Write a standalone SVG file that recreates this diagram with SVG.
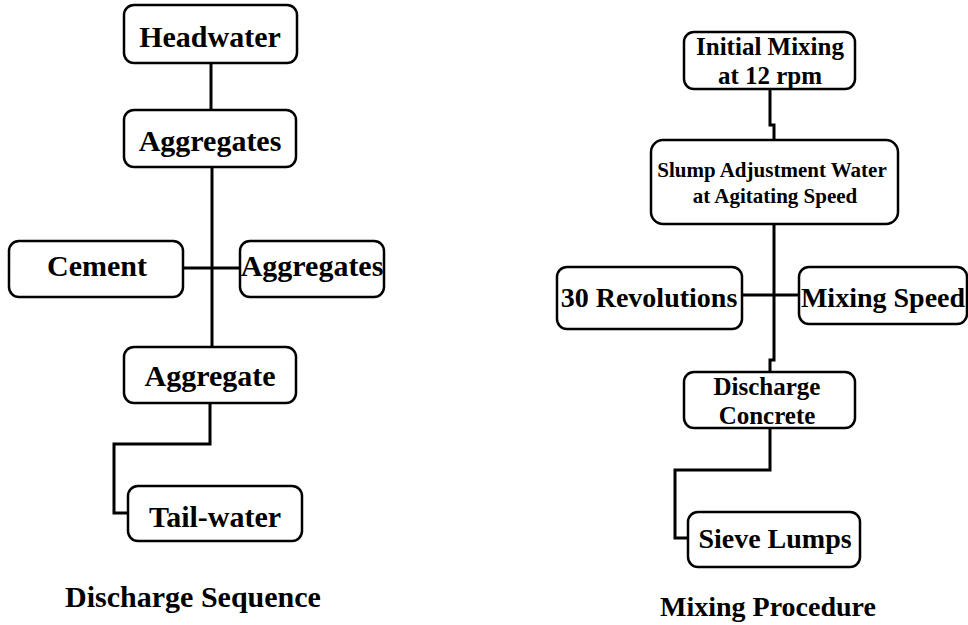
<svg xmlns="http://www.w3.org/2000/svg" width="968" height="625" viewBox="0 0 968 625">
<style>
.box{fill:#fff;stroke:#000;stroke-width:2.5}
.t{font-family:"Liberation Serif","Times New Roman",serif;font-weight:bold;fill:#000;text-anchor:middle}
.ln{fill:none;stroke:#000;stroke-width:3;stroke-linejoin:miter}
</style>
<rect width="968" height="625" fill="#fff"/>
<g id="connectors">
<path class="ln" d="M211,63 V110"/>
<path class="ln" d="M212,167 V347"/>
<path class="ln" d="M183,268 H240"/>
<path class="ln" d="M210,403 V444 H114 V513 H128"/>
<path class="ln" d="M770,89 V125 H774 V140"/>
<path class="ln" d="M774,224 V360 H770 V372"/>
<path class="ln" d="M742,295 H799"/>
<path class="ln" d="M770,428 V470 H675 V538 H688"/>
</g>
<g id="headwater"><rect class="box" x="124" y="5" width="173" height="58" rx="10"/><text class="t" x="210" y="47" font-size="30">Headwater</text></g>
<g id="aggregates1"><rect class="box" x="124" y="110" width="172" height="57" rx="10"/><text class="t" x="210" y="151" font-size="30">Aggregates</text></g>
<g id="cement"><rect class="box" x="9" y="241" width="174" height="56" rx="10"/><text class="t" x="97" y="276" font-size="30">Cement</text></g>
<g id="aggregates2"><rect class="box" x="240" y="241" width="144" height="56" rx="10"/><text class="t" x="312" y="276" font-size="30">Aggregates</text></g>
<g id="aggregate"><rect class="box" x="124" y="347" width="172" height="56" rx="10"/><text class="t" x="210" y="386" font-size="30">Aggregate</text></g>
<g id="tailwater"><rect class="box" x="128" y="486" width="174" height="55" rx="10"/><text class="t" x="215" y="527" font-size="30">Tail-water</text></g>
<g id="title-left"><text class="t" x="193" y="607" font-size="30">Discharge Sequence</text></g>
<g id="initial-mixing"><rect class="box" x="684" y="32" width="171" height="57" rx="10"/><text class="t" x="770" y="55" font-size="25">Initial Mixing</text><text class="t" x="770" y="84" font-size="25">at 12 rpm</text></g>
<g id="slump"><rect class="box" x="651" y="140" width="247" height="84" rx="12"/><text class="t" x="772" y="177" font-size="21">Slump Adjustment Water</text><text class="t" x="775" y="203" font-size="21">at Agitating Speed</text></g>
<g id="revolutions"><rect class="box" x="557" y="267" width="185" height="62" rx="10"/><text class="t" x="649" y="307" font-size="28">30 Revolutions</text></g>
<g id="mixing-speed"><rect class="box" x="799" y="267" width="168" height="57" rx="10"/><text class="t" x="883" y="307" font-size="28">Mixing Speed</text></g>
<g id="discharge-concrete"><rect class="box" x="684" y="372" width="171" height="56" rx="10"/><text class="t" x="767" y="395" font-size="25">Discharge</text><text class="t" x="767" y="424" font-size="25">Concrete</text></g>
<g id="sieve-lumps"><rect class="box" x="688" y="512" width="172" height="55" rx="10"/><text class="t" x="775" y="548" font-size="28">Sieve Lumps</text></g>
<g id="title-right"><text class="t" x="768" y="616" font-size="28">Mixing Procedure</text></g>
</svg>
